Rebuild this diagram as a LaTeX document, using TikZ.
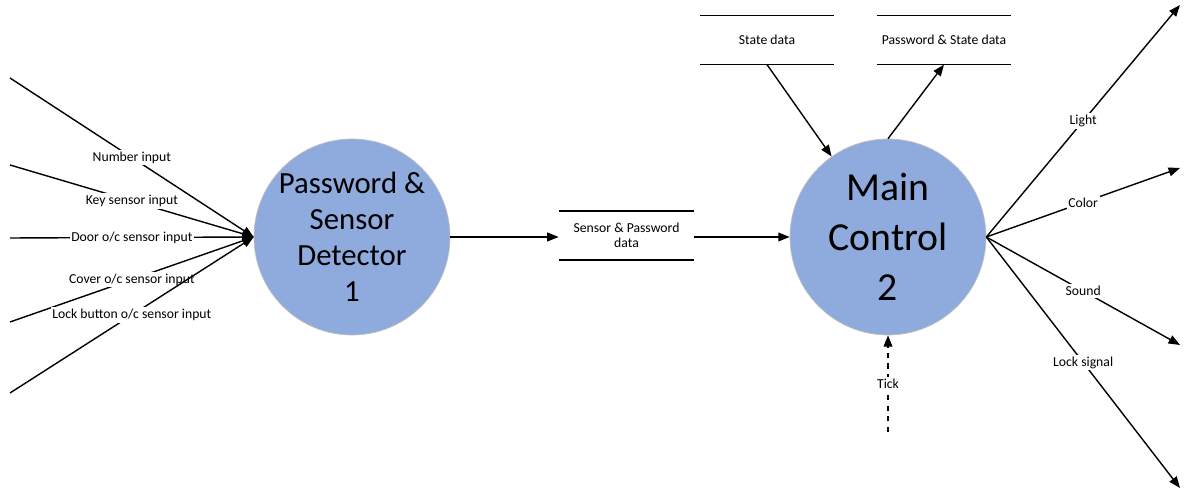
\documentclass[tikz,border=0pt]{standalone}
\usepackage{fontspec}
\setmainfont{Carlito}
\usetikzlibrary{arrows.meta,positioning}
\definecolor{bubble}{HTML}{8FAADC}
\definecolor{rim}{HTML}{BFBFBF}

\begin{document}
\begin{tikzpicture}[x=0.02cm,y=-0.02cm,
    process/.style={circle,fill=bubble,draw=rim,thin,minimum size=3.92cm,inner sep=0pt,align=center},
    store/.style={minimum height=0.97cm,inner sep=0pt,align=center,font=\fontsize{7.8}{8.8}\selectfont},
    flow/.style={line width=0.8pt,-{Triangle[length=6.5pt,width=5pt]}},
    lbl/.style={fill=white,inner sep=1pt,font=\fontsize{7.8}{9.4}\selectfont}]
  \useasboundingbox (0,0) rectangle (1184,492);

  % processes
  \node[process,font=\fontsize{17.5}{20.5}\selectfont] (detect) at (352,237) {Password \&\\Sensor\\Detector\\1};
  \node[process,font=\fontsize{22.6}{28.3}\selectfont] (main) at (888,237) {Main\\Control\\2};

  % data stores
  \node[store,minimum width=2.7cm] (sensdata) at (626.5,235.5) {Sensor \& Password\\data};
  \node[store,minimum width=2.68cm] (state) at (767,40) {State data};
  \node[store,minimum width=2.68cm] (pwstate) at (944,40) {Password \& State data};
  \foreach \s in {sensdata,state,pwstate}
    \draw[line width=0.8pt] (\s.north west) -- (\s.north east) (\s.south west) -- (\s.south east);

  % inputs
  \coordinate (in1) at (10,78);
  \coordinate (in2) at (10,165);
  \coordinate (in3) at (10,238);
  \coordinate (in4) at (10,322);
  \coordinate (in5) at (10,393);
  \draw[flow] (in1) -- node[lbl] (lnum) {Number input} (detect.west);
  \draw[flow] (in2) -- node[lbl] (lkey) {Key sensor input} (detect.west);
  \draw[flow] (in3) -- node[lbl] (ldoor) {Door o/c sensor input} (detect.west);
  \draw[flow] (in4) -- node[lbl] (lcover) {Cover o/c sensor input} (detect.west);
  \draw[flow] (in5) -- node[lbl] (llock) {Lock button o/c sensor input} (detect.west);

  % main flow
  \draw[flow] (detect.east) -- (detect.east -| sensdata.west);
  \draw[flow] (sensdata.east |- main.west) -- (main.west);
  \draw[flow] (state.south) -- (main.125);
  \draw[flow] (main.north) -- (pwstate.south);

  % tick
  \coordinate (tick) at (888,432);
  \draw[flow,dashed] (tick) -- node[lbl] (ltick) {Tick} (main.south);

  % outputs
  \coordinate (light) at (1180,5);
  \coordinate (color) at (1180,168);
  \coordinate (sound) at (1180,345);
  \coordinate (lock) at (1180,488);
  \draw[flow] (main.east) -- node[lbl] (llight) {Light} (light);
  \draw[flow] (main.east) -- node[lbl] (lcolor) {Color} (color);
  \draw[flow] (main.east) -- node[lbl] (lsound) {Sound} (sound);
  \draw[flow] (main.east) -- node[lbl] (lsig) {Lock signal} (lock);
\end{tikzpicture}
\end{document}
